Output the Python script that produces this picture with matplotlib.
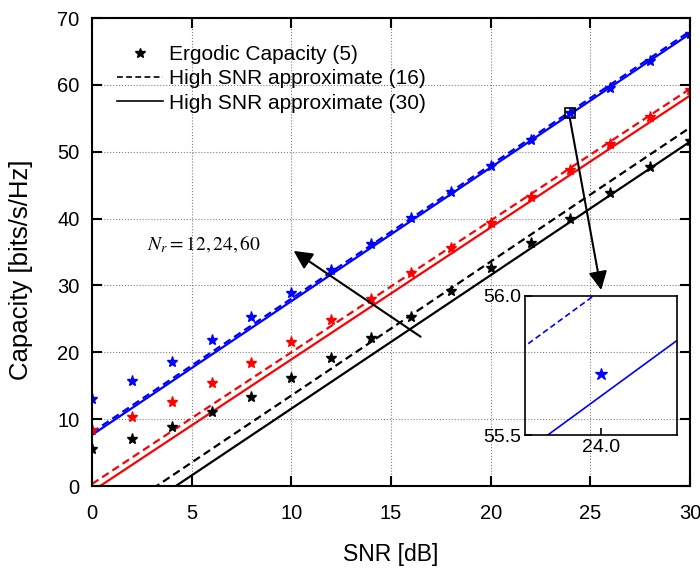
import numpy as np
import matplotlib
matplotlib.use("Agg")
import matplotlib.pyplot as plt

plt.rcParams['font.family'] = ['Liberation Sans', 'DejaVu Sans']
plt.rcParams['mathtext.fontset'] = 'stix'

snr = [0, 2, 4, 6, 8, 10, 12, 14, 16, 18, 20, 22, 24, 26, 28, 30]

# ergodic capacity (stars), Nr = 60, 24, 12
cap_60 = [13.0, 15.7, 18.6, 21.8, 25.3, 28.8, 32.3, 36.2, 40.1, 44.0, 47.9, 51.8, 55.72, 59.6, 63.6, 67.6]
cap_24 = [8.4, 10.3, 12.6, 15.4, 18.4, 21.6, 24.8, 28.0, 31.9, 35.6, 39.4, 43.3, 47.3, 51.2, 55.2, 59.3]
cap_12 = [5.5, 7.0, 8.8, 11.1, 13.3, 16.1, 19.1, 22.1, 25.3, 29.1, 32.6, 36.3, 40.0, 43.8, 47.7, 51.6]

# high SNR approximations, values at SNR = 0 and 30 dB (straight lines)
snr_ends = [0, 30]
apx16_60 = [8.02, 68.02]
apx30_60 = [7.64, 67.64]
apx16_24 = [0.3, 59.4]
apx30_24 = [-0.8, 58.4]
apx16_12 = [-6.5, 53.6]
apx30_12 = [-8.4, 51.5]

colors = ['blue', 'red', 'black']
caps = [cap_60, cap_24, cap_12]
apx16 = [apx16_60, apx16_24, apx16_12]
apx30 = [apx30_60, apx30_24, apx30_12]

# inset window
inset_x = [23.9, 24.1]
inset_y = [55.5, 56.0]

fig = plt.figure(figsize=(7, 5.7), dpi=100)
ax = fig.add_axes([92/700, 1-486/570, 598/700, 468/570])

for c, cp, a16, a30 in zip(colors, caps, apx16, apx30):
    ax.plot(snr_ends, a16, '--', color=c, lw=1.6, dashes=(3.5, 2))
    ax.plot(snr_ends, a30, '-', color=c, lw=1.6)
    ax.plot(snr, cp, '*', color=c, ms=8, ls='none')

# legend entries (black)
h1, = ax.plot([], [], '*', color='black', ms=7, ls='none')
h2, = ax.plot([], [], '--', color='black', lw=1.2, dashes=(3.5, 2))
h3, = ax.plot([], [], '-', color='black', lw=1.2)
ax.legend([h1, h2, h3], ['Ergodic Capacity (5)', 'High SNR approximate (16)',
                         'High SNR approximate (30)'],
          loc='upper left', frameon=False, fontsize=15, handlelength=2.2,
          handletextpad=0.3, labelspacing=0.25, borderaxespad=0, borderpad=0,
          bbox_to_anchor=(0.042, 0.942))

ax.set_xlim(0, 30)
ax.set_ylim(0, 70)
ax.set_xticks(np.arange(0, 31, 5))
ax.set_yticks(np.arange(0, 71, 10))
ax.grid(True, ls=':', color='gray', lw=0.8)
ax.tick_params(direction='in', length=7, width=1.5, top=True, right=True,
               labelsize=14.5)
ax.tick_params(axis='x', pad=13)
ax.tick_params(axis='y', pad=9)
for s in ax.spines.values():
    s.set_linewidth(1.5)
ax.set_xlabel('SNR [dB]', fontsize=16.5, labelpad=14)
ax.set_ylabel('Capacity [bits/s/Hz]', fontsize=18.5)
ax.yaxis.set_label_coords(-0.099, 0.4615)

ax.text(2.75, 35.2, r'$N_r = 12, 24, 60$', fontsize=14, family='serif')
ax.annotate('', xy=(10.0, 35.4), xytext=(16.6, 22.1),
            arrowprops=dict(arrowstyle='-|>', mutation_scale=28, color='black', lw=1.5))

# zoom marker and arrow to inset
cx, cy = np.mean(inset_x), np.mean(inset_y)
ax.plot([cx], [cy], 's', mfc='none', mec='black', ms=7, mew=1.2)
ax.annotate('', xy=(25.57, 28.9), xytext=(cx - 0.05, cy - 0.4),
            arrowprops=dict(arrowstyle='-|>', mutation_scale=28, color='black', lw=1.5))

# inset
ins = fig.add_axes([525/700, 1-435/570, 152/700, 139/570])
ins.patch.set_alpha(0)
ins.plot(snr_ends, apx16_60, '--', color='blue', lw=1.2, dashes=(3.5, 2))
ins.plot(snr_ends, apx30_60, '-', color='blue', lw=1.2)
ins.plot(snr, cap_60, '*', color='blue', ms=9, ls='none')
ins.set_xlim(inset_x)
ins.set_ylim(inset_y)
ins.set_xticks([24.0])
ins.set_yticks(inset_y)
ins.set_xticklabels(['24.0'])
ins.set_yticklabels(['55.5', '56.0'])
ins.tick_params(direction='in', length=5, width=1.2, labelsize=14, pad=3)
for s in ins.spines.values():
    s.set_linewidth(1.2)

fig.savefig('out.png', dpi=100)
